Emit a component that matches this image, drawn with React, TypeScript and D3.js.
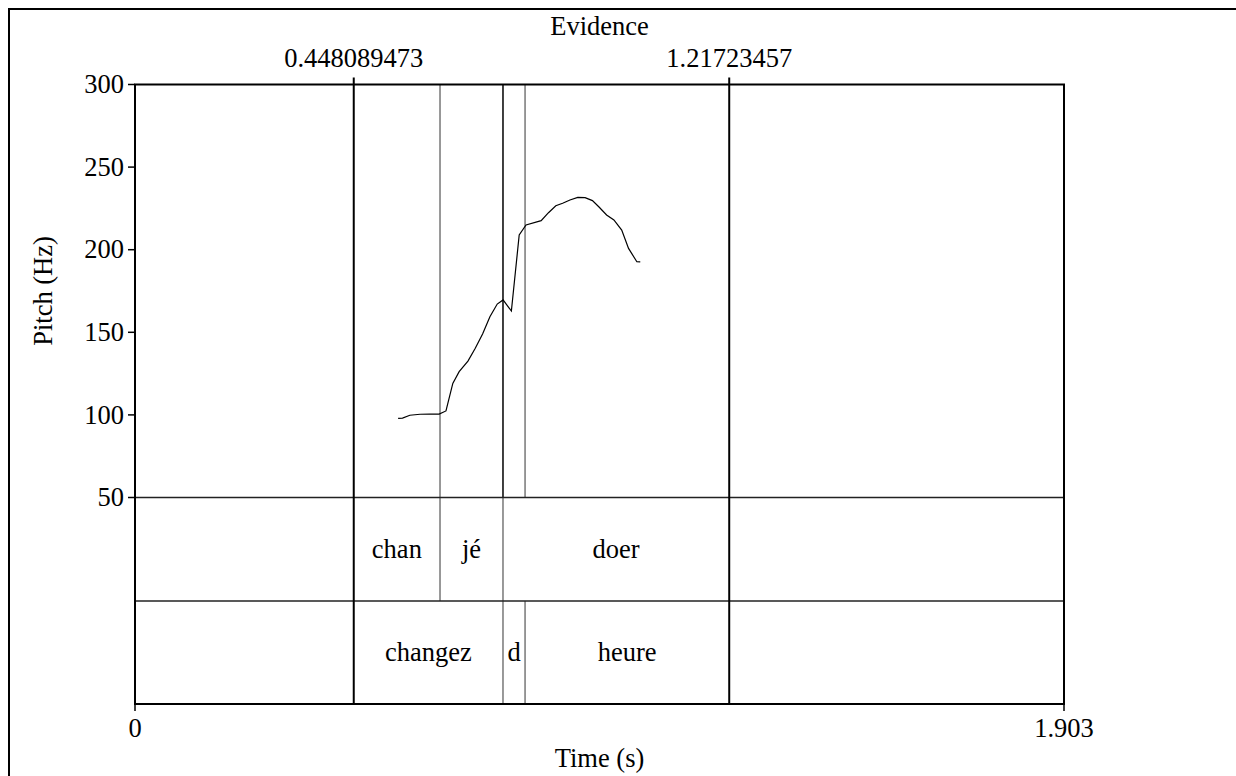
import React, { useEffect, useRef } from 'react';
import * as d3 from 'd3';

// pitch contour (s, Hz)
const pitchTimes = [
  0.539, 0.548, 0.563, 0.584, 0.604, 0.623, 0.637, 0.651, 0.664, 0.682, 0.697,
  0.712, 0.727, 0.742, 0.754, 0.771, 0.787, 0.801, 0.832, 0.847, 0.862, 0.876,
  0.891, 0.907, 0.922, 0.937, 0.951, 0.966, 0.981, 0.997, 1.011, 1.028, 1.035,
];
const pitchHz = [
  97.9, 98.1, 99.8, 100.4, 100.5, 100.5, 102.4, 119.1, 126.2, 132.6, 140.3,
  149.0, 159.4, 167.1, 169.6, 162.9, 208.9, 215.0, 217.6, 222.4, 226.6, 228.1,
  230.1, 231.7, 231.5, 229.7, 225.7, 221.0, 218.0, 211.9, 200.8, 192.7, 192.6,
];

const tier1Bounds = [0.448089473, 0.6248, 0.7538, 1.21723457];
const tier1Labels = ['chan', 'jé', 'doer'];
const tier2Bounds = [0.448089473, 0.7538, 0.799, 1.21723457];
const tier2Labels = ['changez', 'd', 'heure'];

const evidenceTimes = [0.448089473, 1.21723457];
const evidenceLabels = ['0.448089473', '1.21723457'];

const yTicks = [50, 100, 150, 200, 250, 300];
const xTicks = [0, 1.903];
const xTickLabels = ['0', '1.903'];

const W = 1236;
const H = 776;
const FONT = '"Liberation Serif", "Times New Roman", serif';
const FS = '26.5px';

const App: React.FC = () => {
  const svgRef = useRef<SVGSVGElement>(null);

  useEffect(() => {
    if (!svgRef.current) return;
    const svg = d3.select(svgRef.current);
    svg.selectAll('*').remove();

    const left = 135, right = 1064;
    const top = 84.5, pitchBottom = 497.5, tierMid = 601, bottom = 704;

    const x = d3.scaleLinear().domain([0, 1.903]).range([left, right]);
    const y = d3.scaleLinear().domain([50, 300]).range([pitchBottom, top]);

    // outer frame (only top/left visible)
    svg.append('rect')
      .attr('x', 9).attr('y', 9).attr('width', W + 20).attr('height', H + 20)
      .attr('fill', 'none').attr('stroke', '#000').attr('stroke-width', 2);

    const g = svg.append('g');

    // boundaries in the pitch area
    const shared = tier1Bounds.filter(b => tier2Bounds.includes(b) && !evidenceTimes.includes(b));
    const allBounds = Array.from(new Set([...tier1Bounds, ...tier2Bounds]))
      .filter(b => !evidenceTimes.includes(b));
    g.selectAll('.pb')
      .data(allBounds)
      .enter().append('line')
      .attr('x1', d => x(d)).attr('x2', d => x(d))
      .attr('y1', top).attr('y2', pitchBottom)
      .attr('stroke', d => (shared.includes(d) ? '#000' : '#777'))
      .attr('stroke-width', 1.5);

    // tier boundaries
    const tiers = [
      { bounds: tier1Bounds, labels: tier1Labels, y0: pitchBottom, y1: tierMid },
      { bounds: tier2Bounds, labels: tier2Labels, y0: tierMid, y1: bottom },
    ];
    tiers.forEach(t => {
      g.selectAll(null)
        .data(t.bounds.filter(b => !evidenceTimes.includes(b)))
        .enter().append('line')
        .attr('x1', d => x(d)).attr('x2', d => x(d))
        .attr('y1', t.y0).attr('y2', t.y1)
        .attr('stroke', '#777')
        .attr('stroke-width', 1.5);
      g.selectAll(null)
        .data(t.labels)
        .enter().append('text')
        .attr('x', (_, i) => (x(t.bounds[i]) + x(t.bounds[i + 1])) / 2)
        .attr('y', (t.y0 + t.y1) / 2)
        .attr('dy', '0.33em')
        .attr('text-anchor', 'middle')
        .style('font-family', FONT)
        .style('font-size', FS)
        .text(d => d);
    });

    // tier separators
    [pitchBottom, tierMid].forEach(yy => {
      g.append('line')
        .attr('x1', left).attr('x2', right).attr('y1', yy).attr('y2', yy)
        .attr('stroke', '#222').attr('stroke-width', 1.5);
    });

    // pitch contour
    const line = d3.line<number>()
      .x((_, i) => x(pitchTimes[i]))
      .y(d => y(d));
    g.append('path')
      .datum(pitchHz)
      .attr('d', line)
      .attr('fill', 'none')
      .attr('stroke', '#000')
      .attr('stroke-width', 1.2);

    // evidence marks
    g.selectAll('.ev')
      .data(evidenceTimes)
      .enter().append('line')
      .attr('x1', d => x(d)).attr('x2', d => x(d))
      .attr('y1', top - 7).attr('y2', bottom)
      .attr('stroke', '#000').attr('stroke-width', 2);
    g.selectAll('.evl')
      .data(evidenceLabels)
      .enter().append('text')
      .attr('x', (_, i) => x(evidenceTimes[i]))
      .attr('y', 67)
      .attr('text-anchor', 'middle')
      .style('font-family', FONT)
      .style('font-size', FS)
      .text(d => d);

    // frame
    g.append('rect')
      .attr('x', left).attr('y', top)
      .attr('width', right - left).attr('height', bottom - top)
      .attr('fill', 'none').attr('stroke', '#000').attr('stroke-width', 2);

    // y axis ticks
    g.selectAll('.yt')
      .data(yTicks)
      .enter().append('line')
      .attr('x1', left - 7).attr('x2', left)
      .attr('y1', d => y(d)).attr('y2', d => y(d))
      .attr('stroke', '#000').attr('stroke-width', 1.5);
    g.selectAll('.ytl')
      .data(yTicks)
      .enter().append('text')
      .attr('x', left - 11)
      .attr('y', d => y(d))
      .attr('dy', '0.33em')
      .attr('text-anchor', 'end')
      .style('font-family', FONT)
      .style('font-size', FS)
      .text(d => d);

    // x axis ticks
    g.selectAll('.xt')
      .data(xTicks)
      .enter().append('line')
      .attr('x1', d => x(d)).attr('x2', d => x(d))
      .attr('y1', bottom).attr('y2', bottom + 7)
      .attr('stroke', '#000').attr('stroke-width', 1.5);
    g.selectAll('.xtl')
      .data(xTickLabels)
      .enter().append('text')
      .attr('x', (_, i) => x(xTicks[i]))
      .attr('y', 737)
      .attr('text-anchor', 'middle')
      .style('font-family', FONT)
      .style('font-size', FS)
      .text(d => d);

    // titles
    g.append('text')
      .attr('x', (left + right) / 2).attr('y', 767)
      .attr('text-anchor', 'middle')
      .style('font-family', FONT).style('font-size', FS)
      .text('Time (s)');
    g.append('text')
      .attr('x', (left + right) / 2).attr('y', 35)
      .attr('text-anchor', 'middle')
      .style('font-family', FONT).style('font-size', FS)
      .text('Evidence');
    g.append('text')
      .attr('transform', `translate(52,${(top + pitchBottom) / 2}) rotate(-90)`)
      .attr('text-anchor', 'middle')
      .style('font-family', FONT).style('font-size', FS)
      .text('Pitch (Hz)');
  }, []);

  return (
    <svg
      ref={svgRef}
      width={W}
      height={H}
      viewBox={`0 0 ${W} ${H}`}
      style={{ position: 'absolute', left: 0, top: 0, background: '#fff' }}
    />
  );
};

export default App;
